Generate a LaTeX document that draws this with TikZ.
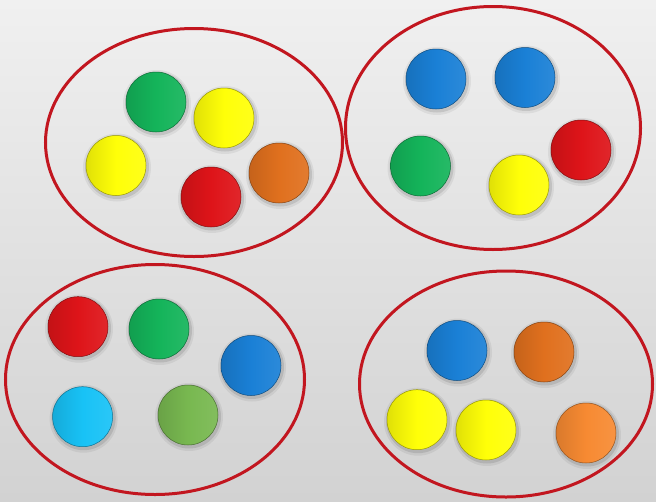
\documentclass[tikz,border=0pt]{standalone}
\begin{document}
\definecolor{ringred}{HTML}{C2161F}
\definecolor{cgreen}{HTML}{14B45A}
\definecolor{cyellow}{HTML}{FFFF08}
\definecolor{cred}{HTML}{DE1419}
\definecolor{corange}{HTML}{E0701E}
\definecolor{cblue}{HTML}{1A80D6}
\definecolor{clblue}{HTML}{18C2F6}
\definecolor{clgreen}{HTML}{78B850}
\definecolor{clorange}{HTML}{F78A32}
\definecolor{bgtop}{HTML}{F0F0F0}
\definecolor{bgbot}{HTML}{D2D2D2}
\tikzset{ring/.style={draw=ringred,line width=3pt}}
\newcommand\mycandy[3]{%
  \fill[black,opacity=0.06] (#1+1,#2+2) circle (34pt);
  \fill[black,opacity=0.10] (#1+1,#2+1.5) circle (32pt);
  \shade[left color=#3!88!black, right color=#3!92!white, middle color=#3,
         draw=#3!60!black, line width=0.5pt] (#1,#2) circle (30pt);
}
\begin{tikzpicture}[x=1pt,y=-1pt]
\shade[top color=bgtop,bottom color=bgbot] (0,0) rectangle (656,501);
\useasboundingbox (0,0) rectangle (656,501);
% rings
\draw[ring] (194,142.5) ellipse [x radius=148.5pt, y radius=114pt];
\draw[ring] (493,128) ellipse [x radius=147.5pt, y radius=121.5pt];
\draw[ring] (155,379.5) ellipse [x radius=149.5pt, y radius=115pt];
\draw[ring] (506,384) ellipse [x radius=146.5pt, y radius=113pt];
% group 1
\mycandy{156}{102}{cgreen}
\mycandy{224}{118}{cyellow}
\mycandy{116}{165.5}{cyellow}
\mycandy{211}{197}{cred}
\mycandy{279}{173}{corange}
% group 2
\mycandy{436}{79}{cblue}
\mycandy{525}{77.5}{cblue}
\mycandy{420.5}{166}{cgreen}
\mycandy{519}{185}{cyellow}
\mycandy{581}{150}{cred}
% group 3
\mycandy{78}{326.7}{cred}
\mycandy{159}{329}{cgreen}
\mycandy{251}{365.5}{cblue}
\mycandy{82.6}{416.7}{clblue}
\mycandy{188}{415}{clgreen}
% group 4
\mycandy{457}{350.5}{cblue}
\mycandy{544}{352}{corange}
\mycandy{417}{419.7}{cyellow}
\mycandy{486}{430}{cyellow}
\mycandy{586}{433}{clorange}
\end{tikzpicture}
\end{document}
